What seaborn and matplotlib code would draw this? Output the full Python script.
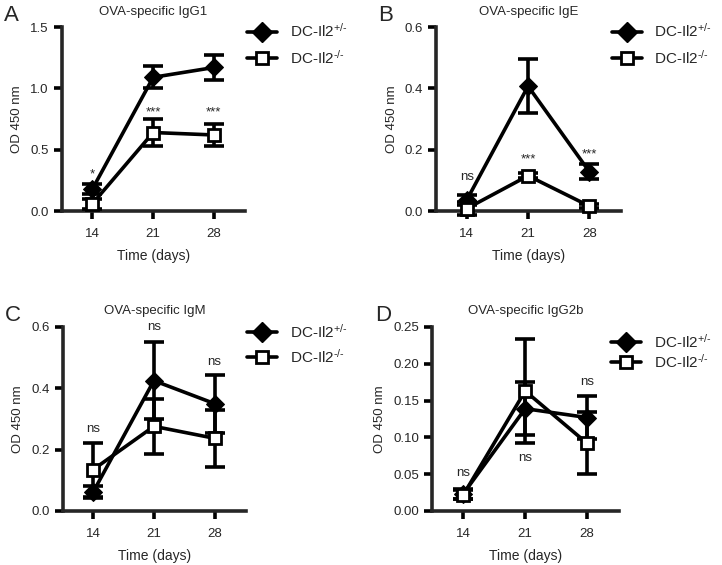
import matplotlib
matplotlib.use("Agg")
import matplotlib.pyplot as plt
import seaborn as sns
import pandas as pd
from matplotlib.lines import Line2D

sns.set_theme(style="ticks")
plt.rcParams['font.family'] = ['Liberation Sans', 'DejaVu Sans']
plt.rcParams['mathtext.fontset'] = 'custom'
plt.rcParams['mathtext.rm'] = 'Liberation Sans'
plt.rcParams['mathtext.default'] = 'regular'

days = [14, 21, 28]
groups = ["DC-Il2$^{+/\\text{-}}$", "DC-Il2$^{\\text{-}/\\text{-}}$"]

titles = ["OVA-specific IgG1", "OVA-specific IgE", "OVA-specific IgM", "OVA-specific IgG2b"]
letters = ["A", "B", "C", "D"]

# means / errors (het = DC-Il2+/-, ko = DC-Il2-/-)
igg1_het = [0.18, 1.09, 1.17]
igg1_het_err = [0.04, 0.09, 0.10]
igg1_ko = [0.06, 0.64, 0.62]
igg1_ko_err = [0.04, 0.11, 0.09]

ige_het = [0.036, 0.407, 0.128]
ige_het_err = [0.015, 0.088, 0.024]
ige_ko = [0.008, 0.115, 0.016]
ige_ko_err = [0.02, 0.008, 0.006]

igm_het = [0.062, 0.425, 0.35]
igm_het_err = [0.02, 0.125, 0.095]
igm_ko = [0.135, 0.276, 0.237]
igm_ko_err = [0.088, 0.09, 0.093]

igg2b_het = [0.0235, 0.139, 0.127]
igg2b_het_err = [0.007, 0.036, 0.029]
igg2b_ko = [0.022, 0.163, 0.092]
igg2b_ko_err = [0.006, 0.071, 0.042]

ylims = [(0, 1.5), (0, 0.6), (0, 0.6), (0, 0.25)]
yticks = [[0.0, 0.5, 1.0, 1.5], [0.0, 0.2, 0.4, 0.6], [0.0, 0.2, 0.4, 0.6],
          [0.0, 0.05, 0.10, 0.15, 0.20, 0.25]]
yfmt = ["{:.1f}", "{:.1f}", "{:.1f}", "{:.2f}"]

# significance annotations: (day, y, text)
annots = [
    [(14, 0.30, "*"), (21, 0.80, "***"), (28, 0.80, "***")],
    [(14, 0.11, "ns"), (21, 0.168, "***"), (28, 0.185, "***")],
    [(14, 0.268, "ns"), (21, 0.60, "ns"), (28, 0.486, "ns")],
    [(14, 0.052, "ns"), (21, 0.072, "ns"), (28, 0.175, "ns")],
]

data = [
    (igg1_het, igg1_het_err, igg1_ko, igg1_ko_err),
    (ige_het, ige_het_err, ige_ko, ige_ko_err),
    (igm_het, igm_het_err, igm_ko, igm_ko_err),
    (igg2b_het, igg2b_het_err, igg2b_ko, igg2b_ko_err),
]

fig = plt.figure(figsize=(7.22, 5.65), dpi=100)
positions = [
    [0.086, 0.6265, 0.2535, 0.3257],
    [0.604, 0.6265, 0.256, 0.3257],
    [0.087, 0.0956, 0.2535, 0.3257],
    [0.599, 0.0956, 0.258, 0.3257],
]
legend_anchor = [(0.342, 0.961), (0.847, 0.961), (0.342, 0.429), (0.846, 0.411)]
legend_spacing = [0.58, 0.58, 0.45, 0.14]

FS = 9.5
LW = 2.6
for i in range(4):
    ax = fig.add_axes(positions[i])
    het, het_err, ko, ko_err = data[i]
    df = pd.DataFrame({"day": days * 2, "od": het + ko,
                       "group": [groups[0]] * 3 + [groups[1]] * 3})
    ax.errorbar(days, het, yerr=het_err, fmt='none', ecolor='black',
                elinewidth=LW, capsize=7, capthick=LW, zorder=3, clip_on=False)
    ax.errorbar(days, ko, yerr=ko_err, fmt='none', ecolor='black',
                elinewidth=LW, capsize=7, capthick=LW, zorder=3, clip_on=False)
    sns.lineplot(data=df[df.group == groups[0]], x="day", y="od", ax=ax,
                 color='black', lw=LW, marker='D', markersize=9.5,
                 markerfacecolor='black', markeredgecolor='black', zorder=4,
                 legend=False, clip_on=False)
    sns.lineplot(data=df[df.group == groups[1]], x="day", y="od", ax=ax,
                 color='black', lw=LW, marker='s', markersize=8.5,
                 markerfacecolor='white', markeredgecolor='black',
                 markeredgewidth=2.0, zorder=5, legend=False, clip_on=False)
    ax.set_xlim(10.5, 31.6)
    ax.set_ylim(*ylims[i])
    ax.set_xticks(days)
    ax.set_xticklabels([str(d) for d in days], fontsize=FS)
    ax.set_yticks(yticks[i])
    ax.set_yticklabels([yfmt[i].format(v) for v in yticks[i]], fontsize=FS)
    ax.set_xlabel("Time (days)", fontsize=10, labelpad=7)
    ax.set_ylabel("OD 450 nm", fontsize=FS, labelpad=5)
    ax.set_title(titles[i], fontsize=FS, pad=9)
    for s in ["top", "right"]:
        ax.spines[s].set_visible(False)
    for s in ["left", "bottom"]:
        ax.spines[s].set_linewidth(LW)
    ax.tick_params(axis='both', width=LW, length=6, color='black')
    ax.tick_params(axis='x', pad=6)
    ax.tick_params(axis='y', pad=3.5)
    for d, y, t in annots[i]:
        ax.text(d, y, t, ha='center', va='center', fontsize=FS)
    fig.text(positions[i][0] - 0.08, positions[i][1] + positions[i][3] + 0.02,
             letters[i], fontsize=16, ha='left', va='center')
    handles = [
        Line2D([0], [0], color='black', lw=LW, marker='D', markersize=10,
               markerfacecolor='black'),
        Line2D([0], [0], color='black', lw=LW, marker='s', markersize=8.5,
               markerfacecolor='white', markeredgewidth=2.0),
    ]
    ax.legend(handles, groups, loc='upper left', bbox_to_anchor=legend_anchor[i],
              bbox_transform=fig.transFigure, borderpad=0, borderaxespad=0,
              frameon=False, fontsize=11, handlelength=2.0, handletextpad=0.8,
              labelspacing=legend_spacing[i])

fig.savefig("out.png", dpi=100)
